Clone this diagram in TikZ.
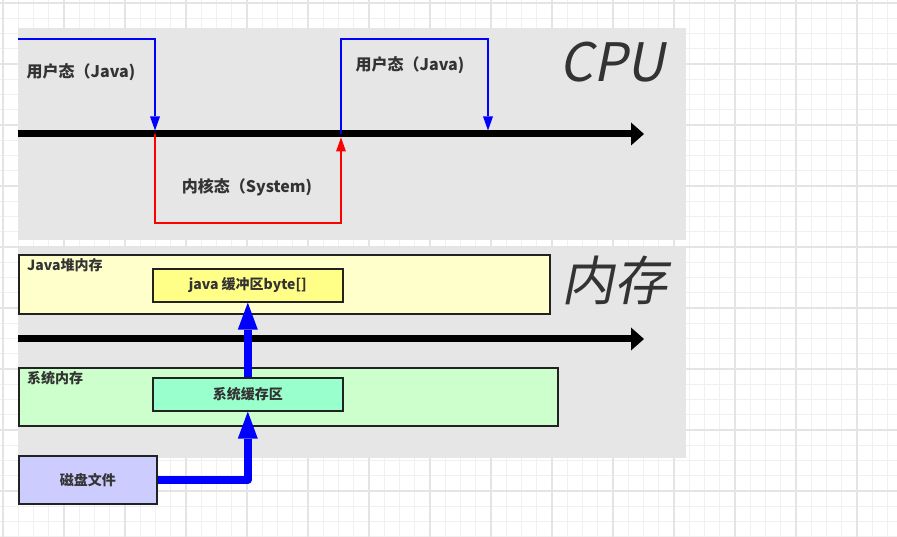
\documentclass[tikz,border=0pt]{standalone}
\usepackage{fontspec}
\setmainfont{Noto Sans CJK SC}
\newfontfamily\bigfont[FakeSlant=0.2]{Noto Sans CJK SC}
\usetikzlibrary{arrows.meta}
\definecolor{panelgrey}{HTML}{E6E6E6}
\definecolor{txt}{HTML}{333333}
\definecolor{boxline}{HTML}{222222}
\definecolor{heapfill}{HTML}{FFFFCC}
\definecolor{buffill}{HTML}{FFFF88}
\definecolor{sysfill}{HTML}{CCFFCC}
\definecolor{cachefill}{HTML}{99FFCC}
\definecolor{diskfill}{HTML}{CCCCFF}
\definecolor{gridminor}{HTML}{F0F0F0}
\definecolor{gridmajor}{HTML}{E4E4E4}
\begin{document}
\begin{tikzpicture}[x=1pt,y=-1pt,
  minorline/.style={draw=gridminor,line width=1pt},
  majorline/.style={draw=gridmajor,line width=1.2pt},
  panel/.style={fill=panelgrey},
  lbl/.style={font=\bfseries\fontsize{16}{18}\selectfont, text=txt, inner sep=0pt},
  smalllbl/.style={font=\bfseries\fontsize{14}{16}\selectfont, text=txt, inner sep=0pt, anchor=west},
  box/.style={draw=boxline, line width=1.6pt, inner sep=0pt, font=\bfseries\fontsize{14}{16}\selectfont, text=txt, anchor=north west},
  axisline/.style={line width=7pt, -{Triangle[length=13pt,width=23pt,line width=0pt]}},
  userline/.style={draw=blue, line width=1.8pt, -{Triangle[length=14pt,width=10pt,line width=0pt]}},
  kernelline/.style={draw=red, line width=1.8pt, -{Triangle[length=14pt,width=10pt,line width=0pt]}},
  bigarrow/.style={draw=blue, line width=8pt, line join=round, -{Triangle[length=27pt,width=20pt,line width=0pt]}},
  title/.style={font=\bigfont\fontsize{53}{60}\selectfont, text=txt, inner sep=0pt, anchor=base}
]
\useasboundingbox (0,0) rectangle (897,537);
\fill[white] (0,0) rectangle (897,537);
% grid
\foreach \i in {0,...,58} {\draw[minorline] ({3+15.25*\i},0) -- ({3+15.25*\i},537);}
\foreach \j in {0,...,35} {\draw[minorline] (0,{3+15.25*\j}) -- (897,{3+15.25*\j});}
\foreach \i in {0,...,14} {\draw[majorline] ({3+61*\i},0) -- ({3+61*\i},537);}
\foreach \j in {0,...,8} {\draw[majorline] (0,{3+61*\j}) -- (897,{3+61*\j});}
% panels
\fill[panel] (18,28) rectangle (686,240);
\fill[panel] (18,248) rectangle (686,458);
% CPU panel
\coordinate (cpuL) at (18,134);
\coordinate (cpuR) at (644,134);
\draw[axisline] (cpuL) -- (cpuR);
\coordinate (u1s) at (18,39);
\coordinate (u1c) at (155,39);
\coordinate (sw1) at (155,130.5);
\coordinate (k1s) at (155,134);
\coordinate (k1c) at (155,223);
\coordinate (k2c) at (341,223);
\coordinate (sw2) at (341,137.5);
\coordinate (u2s) at (341,134);
\coordinate (u2c) at (341,39);
\coordinate (u2d) at (488,39);
\coordinate (sw3) at (488,130.5);
\draw[userline] (u1s) -- (u1c) -- (sw1);
\draw[kernelline] (k1s) -- (k1c) -- (k2c) -- (sw2);
\draw[userline] (u2s) -- (u2c) -- (u2d) -- (sw3);
\node[lbl] (user1) at (81,72) {用户态（Java)};
\node[lbl] (user2) at (410,65) {用户态（Java)};
\node[lbl] (kernel) at (247,187) {内核态（System)};
\node[title] (cpu) at (612,82) {CPU};
% memory panel
\node[box, fill=heapfill, minimum width=531pt, minimum height=59pt] (heap) at (18,254) {};
\node[smalllbl] (heaplbl) at (27,265) {Java堆内存};
\node[box, fill=buffill, minimum width=190pt, minimum height=33pt] (buf) at (152,268) {java 缓冲区byte[]};
\node[title] (mem) at (614,301) {内存};
\coordinate (memL) at (18,339);
\coordinate (memR) at (644,339);
\draw[axisline] (memL) -- (memR);
\node[box, fill=sysfill, minimum width=539pt, minimum height=58pt] (sys) at (18,367) {};
\node[smalllbl] (syslbl) at (27,378) {系统内存};
\node[box, fill=cachefill, minimum width=190pt, minimum height=33pt] (cache) at (152,377) {系统缓存区};
\node[box, fill=diskfill, minimum width=138pt, minimum height=48pt] (disk) at (18,455) {磁盘文件};
\draw[bigarrow] (disk.east) -| (cache.south);
\draw[bigarrow] (cache.north) -- (buf.south);
\end{tikzpicture}
\end{document}
